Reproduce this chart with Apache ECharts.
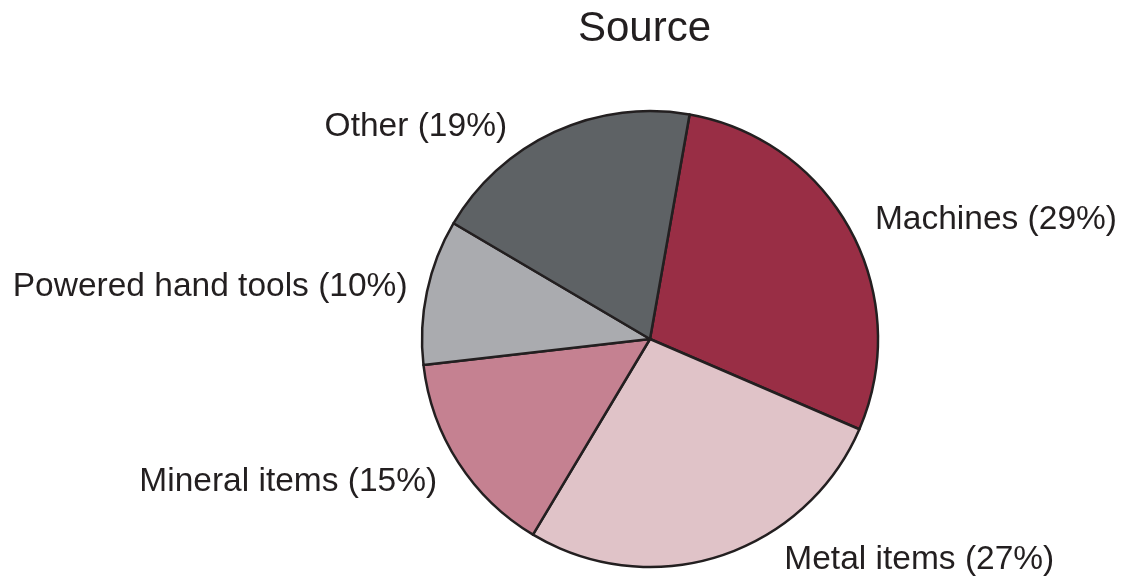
<!DOCTYPE html>
<html>
<head>
<meta charset="utf-8">
<script src="https://cdn.jsdelivr.net/npm/echarts@6/dist/echarts.min.js"></script>
<style>html,body{margin:0;padding:0;background:#fff}#c{width:1125px;height:581px}</style>
</head>
<body>
<div id="c"></div>
<script>
const titleText = 'Source';
const categories = ['Machines', 'Metal items', 'Mineral items', 'Powered hand tools', 'Other'];
const values = [28.7, 27.1, 14.6, 10.3, 19.3];
const colors = ['#992e45', '#e0c3c8', '#c58191', '#aaabaf', '#5e6265'];
// label leader distances (hidden lines) used to place each label
const labelLen = [23, 4, 36, 26, 6];
const labelLen2 = [-1, 58, -14, -11, 40];

const chart = echarts.init(document.getElementById('c'), null, {renderer: 'canvas'});
const data = categories.map((name, i) => ({
  name: name,
  value: values[i],
  itemStyle: {color: colors[i]},
  labelLine: {show: false, length: labelLen[i], length2: labelLen2[i]}
}));
chart.setOption({
  animation: false,
  backgroundColor: '#ffffff',
  title: {
    text: titleText,
    left: 573,
    top: 3,
    textStyle: {fontFamily: 'Liberation Sans', fontSize: 42, fontWeight: 'normal', color: '#231f20'}
  },
  series: [{
    type: 'pie',
    center: [650, 339],
    radius: 228,
    startAngle: 80,
    clockwise: true,
    avoidLabelOverlap: false,
    itemStyle: {borderColor: '#231f20', borderWidth: 2.5},
    label: {
      show: true,
      position: 'outside',
      fontFamily: 'Liberation Sans',
      fontSize: 33.5,
      color: '#231f20',
      formatter: p => p.name + ' (' + Math.round(p.value) + '%)'
    },
    emphasis: {disabled: true},
    data: data
  }]
});
</script>
</body>
</html>
